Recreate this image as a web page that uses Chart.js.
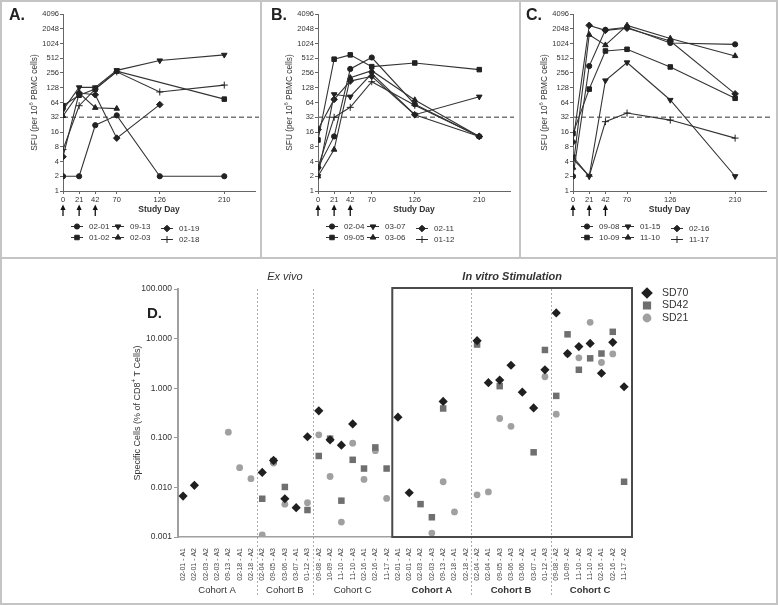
<!DOCTYPE html>
<html>
<head>
<meta charset="utf-8">
<script src="https://cdn.jsdelivr.net/npm/chart.js@4.4.1/dist/chart.umd.min.js"></script>
<style>
    body { margin: 0; background: #fff; }
    #fig { position: relative; width: 778px; height: 605px; overflow: hidden; background: #fff; }
    #fig canvas { position: absolute; }
    .rule { position: absolute; background: #c4c4c4; }
</style>
</head>
<body>
<div id="fig">
    <div class="rule" style="left:0;top:0;width:778px;height:2px"></div>
    <div class="rule" style="left:0;top:603px;width:778px;height:2px"></div>
    <div class="rule" style="left:0;top:0;width:2px;height:605px"></div>
    <div class="rule" style="left:776px;top:0;width:2px;height:605px"></div>
    <div class="rule" style="left:0;top:257px;width:778px;height:2px"></div>
    <div class="rule" style="left:260px;top:0;width:2px;height:257px"></div>
    <div class="rule" style="left:519px;top:0;width:2px;height:257px"></div>

    <canvas id="chartA" width="262" height="257" style="left:0;top:0"></canvas>
    <canvas id="chartB" width="262" height="257" style="left:255px;top:0"></canvas>
    <canvas id="chartC" width="268" height="257" style="left:510px;top:0"></canvas>
    <canvas id="chartD" width="778" height="346" style="left:0;top:259px"></canvas>
</div>

<script>
// ---- panels A-C: SFU over study days ----
const days = [0, 21, 42, 70, 126, 210];
const sfuTicks = [1, 2, 4, 8, 16, 32, 64, 128, 256, 512, 1024, 2048, 4096];
const vaccinationDays = [0, 21, 42];
const cutoff = 32;

const namesA = ["02-01", "01-02", "09-13", "02-03", "01-19", "02-18"];
const a0201 = [2, 2, 22, 35, 2, 2];
const a0102 = [55, 90, 120, 280, null, 75];
const a0913 = [45, 130, 130, 290, 460, 600];
const a0203 = [34, 100, 50, 48, null, null];
const a0119 = [5, 100, 92, 12, 58, null];
const a0218 = [7, 55, 120, 270, 105, 145];

const namesB = ["02-04", "09-05", "03-07", "03-06", "02-11", "01-12"];
const b0204 = [3, 13, 310, 530, 59, 13];
const b0905 = [11, 490, 600, 345, 410, 300];
const b0307 = [2, 94, 84, 250, 36, 84];
const b0306 = [2, 7, 205, 285, 72, 13];
const b0211 = [18, 74, 175, 220, 36, 13];
const b0112 = [3, 32, 51, 170, 56, 13];

const namesC = ["09-08", "10-09", "01-15", "11-10", "02-16", "11-17"];
const c0908 = [2, 355, 1950, 2200, 1050, 985];
const c1009 = [15, 120, 720, 780, 340, 78];
const c0115 = [5, 2, 180, 420, 72, 2];
const c1110 = [3, 1550, 950, 2400, 1300, 570];
const c0216 = [10, 2400, 1900, 2100, 1150, 96];
const c1117 = [4.5, 2, 26, 39, 28, 12];

// ---- panel D: specific cells per patient / time point ----
const sampleLabels = [
    "02-01 - A1", "02-01 - A2", "02-03 - A2", "02-03 - A3", "09-13 - A2", "02-18 - A1", "02-18 - A2",
    "02-04 - A2", "09-05 - A3", "03-06 - A3", "03-07 - A1", "01-12 - A3",
    "09-08 - A2", "10-09 - A2", "11-10 - A2", "11-10 - A3", "02-16 - A1", "02-16 - A2", "11-17 - A2",
    "02-01 - A1", "02-01 - A2", "02-03 - A2", "02-03 - A3", "09-13 - A2", "02-18 - A1", "02-18 - A2",
    "02-04 - A2", "02-04 - A1", "09-05 - A3", "03-06 - A3", "03-06 - A2", "03-07 - A1", "01-12 - A3",
    "09-08 - A2", "10-09 - A2", "11-10 - A2", "11-10 - A3", "02-16 - A1", "02-16 - A2", "11-17 - A2",
];
const pctTicks = [0.001, 0.01, 0.1, 1, 10, 100];
const sd70 = [
    0.0067, 0.011, null, null, null, null, null,
    0.020, 0.035, 0.0059, 0.0039, 0.105,
    0.35, 0.091, 0.071, 0.19, null, null, null,
    0.26, 0.0078, null, null, 0.54, null, null,
    9.1, 1.29, 1.46, 2.9, 0.83, 0.40, 2.35,
    33, 5.0, 6.9, 8.0, 2.0, 8.4, 1.07,
];
const sd42 = [
    null, null, null, null, null, null, null,
    0.0059, 0.034, 0.0102, null, 0.0035,
    0.043, 0.096, 0.0054, 0.036, 0.024, 0.064, 0.024,
    null, null, 0.0046, 0.0025, 0.39, null, null,
    7.6, null, 1.1, null, null, 0.051, 5.9,
    0.70, 12.2, 2.35, 4.0, 5.0, 13.7, 0.013,
];
const sd21 = [
    null, null, null, null, 0.13, 0.025, 0.015,
    0.0011, 0.031, 0.0046, null, 0.0049,
    0.115, 0.0166, 0.0020, 0.078, 0.0145, 0.055, 0.006,
    null, null, null, 0.0012, 0.013, 0.0032, null,
    0.0071, 0.0081, 0.245, 0.17, null, null, 1.7,
    0.30, 4.9, 4.1, 21.3, 3.3, 4.9, null,
];
const cohortNames = ["Cohort A", "Cohort B", "Cohort C"];

const FONT = "'Liberation Sans', Arial, sans-serif";
const markerStyles = ["circle", "rect", "triangle", "triangle", "rectRot", "cross"];
const markerRotation = [0, 0, 180, 0, 0, 0];
const markerRadius = [2.6, 3.2, 3.2, 3.2, 3.3, 3.5];

function font(size, weight = "normal", style = "normal") {
    return `${style} ${weight} ${size}px ${FONT}`;
}

function drawMarker(ctx, style, x, y, radius, rotation, color) {
    ctx.save();
    ctx.fillStyle = color;
    ctx.strokeStyle = color;
    Chart.helpers.drawPoint(ctx, { pointStyle: style, rotation, radius, borderWidth: 1 }, x, y);
    ctx.restore();
}

// vertical axis title with an optional superscript part
function drawVerticalTitle(ctx, parts, cx, cy, size) {
    ctx.save();
    ctx.translate(cx, cy);
    ctx.rotate(-Math.PI / 2);
    let total = 0;
    parts.forEach((p) => {
        ctx.font = font(p.sup ? size * 0.7 : size);
        p.w = ctx.measureText(p.t).width;
        total += p.w;
    });
    let x = -total / 2;
    ctx.fillStyle = "#333";
    ctx.textAlign = "left";
    ctx.textBaseline = "middle";
    parts.forEach((p) => {
        ctx.font = font(p.sup ? size * 0.7 : size);
        ctx.fillText(p.t, x, p.sup ? -size * 0.4 : 0);
        x += p.w;
    });
    ctx.restore();
}

const topDecor = {
    id: "topDecor",
    beforeDatasetsDraw(chart) {
        const { ctx, chartArea, scales } = chart;
        const yy = scales.y.getPixelForValue(cutoff);
        ctx.save();
        ctx.strokeStyle = "#777";
        ctx.lineWidth = 1.6;
        ctx.setLineDash([5, 3]);
        ctx.beginPath();
        ctx.moveTo(chartArea.left, yy);
        ctx.lineTo(chartArea.right + 4, yy);
        ctx.stroke();
        ctx.restore();
    },
    afterDraw(chart) {
        const { ctx, chartArea, scales } = chart;
        const opts = chart.options.plugins.topDecor;
        ctx.save();
        // vaccination arrows
        ctx.fillStyle = "#111";
        ctx.strokeStyle = "#111";
        ctx.lineWidth = 1.3;
        vaccinationDays.forEach((d) => {
            const x = scales.x.getPixelForValue(d);
            ctx.beginPath();
            ctx.moveTo(x, 209);
            ctx.lineTo(x, 216);
            ctx.stroke();
            ctx.beginPath();
            ctx.moveTo(x, 204.5);
            ctx.lineTo(x - 2.6, 210);
            ctx.lineTo(x + 2.6, 210);
            ctx.closePath();
            ctx.fill();
        });
        ctx.fillStyle = "#333";
        ctx.font = font(8.5, "bold");
        ctx.textAlign = "center";
        ctx.textBaseline = "middle";
        ctx.fillText("Study Day", (chartArea.left + chartArea.right) / 2, 210);

        ctx.font = font(16, "bold");
        ctx.fillStyle = "#222";
        ctx.textAlign = "left";
        ctx.fillText(opts.letter, opts.letterX, 16);

        // legend, 3 columns x 2 rows
        const cols = [77, 118, 167];
        const rows = [226.5, 237.5];
        ctx.font = font(8);
        chart.data.datasets.forEach((ds, i) => {
            const col = Math.floor(i / 2);
            const y = rows[i % 2] + (col === 2 ? 2 : 0);
            const cx = cols[col];
            ctx.strokeStyle = "#333";
            ctx.lineWidth = 1;
            ctx.beginPath();
            ctx.moveTo(cx - 6, y);
            ctx.lineTo(cx + 6, y);
            ctx.stroke();
            drawMarker(ctx, markerStyles[i], cx, y, markerRadius[i], markerRotation[i], "#222");
            ctx.fillStyle = "#333";
            ctx.textAlign = "left";
            ctx.fillText(ds.label, cx + 12, y);
        });
        ctx.restore();

        drawVerticalTitle(ctx, [
            { t: "SFU (per 10" }, { t: "6", sup: true }, { t: " PBMC cells)" },
        ], 35, (chartArea.top + chartArea.bottom) / 2, 8.3);
    },
};

function createTopChart(id, letter, letterX, names, series, rightPad) {
    new Chart(document.getElementById(id), {
        type: "line",
        data: {
            datasets: series.map((vals, i) => ({
                label: names[i],
                data: days.map((d, j) => ({ x: d, y: vals[j] })),
                borderColor: "#333",
                borderWidth: 1.1,
                pointStyle: markerStyles[i],
                rotation: markerRotation[i],
                pointRadius: markerRadius[i],
                pointBackgroundColor: "#222",
                pointBorderColor: "#222",
                pointBorderWidth: 1,
                spanGaps: true,
                tension: 0,
            })),
        },
        options: {
            responsive: false,
            animation: false,
            events: [],
            layout: { padding: { left: 0, top: 14, right: rightPad, bottom: 0 } },
            plugins: {
                legend: { display: false },
                tooltip: { enabled: false },
                topDecor: { letter, letterX },
            },
            scales: {
                x: {
                    type: "linear",
                    min: 0,
                    max: 250,
                    afterBuildTicks: (s) => { s.ticks = days.map((v) => ({ value: v })); },
                    afterFit: (s) => { s.height = 66; },
                    ticks: { font: { family: FONT, size: 7.5 }, color: "#333", padding: 1, maxRotation: 0, autoSkip: false },
                    grid: { drawOnChartArea: false, tickLength: 3, color: "#666" },
                    border: { color: "#666", width: 1 },
                },
                y: {
                    type: "logarithmic",
                    min: 1,
                    max: 4096,
                    afterBuildTicks: (s) => { s.ticks = sfuTicks.map((v) => ({ value: v })); },
                    afterFit: (s) => { s.width = 63; },
                    ticks: {
                        font: { family: FONT, size: 7.5 },
                        color: "#333",
                        padding: 1,
                        autoSkip: false,
                        callback: (v) => String(v),
                    },
                    grid: { drawOnChartArea: false, tickLength: 3, color: "#666" },
                    border: { color: "#666", width: 1 },
                },
            },
        },
        plugins: [topDecor],
    });
}

createTopChart("chartA", "A.", 9, namesA, [a0201, a0102, a0913, a0203, a0119, a0218], 7);
createTopChart("chartB", "B.", 16, namesB, [b0204, b0905, b0307, b0306, b0211, b0112], 7);
createTopChart("chartC", "C.", 16, namesC, [c0908, c1009, c0115, c1110, c0216, c1117], 12);

// ---- panel D ----
const dSeries = [
    { label: "SD70", data: sd70, style: "rectRot", radius: 4.6, color: "#1f1f1f" },
    { label: "SD42", data: sd42, style: "rect", radius: 4.6, color: "#6f6f6f" },
    { label: "SD21", data: sd21, style: "circle", radius: 3.4, color: "#a0a0a0" },
];

const panelDDecor = {
    id: "panelDDecor",
    beforeDatasetsDraw(chart) {
        const { ctx, chartArea, scales: { x } } = chart;
        ctx.save();
        ctx.strokeStyle = "#9a9a9a";
        ctx.lineWidth = 0.8;
        ctx.setLineDash([2, 2]);
        [6.5, 11.5, 25.5, 32.5].forEach((v) => {
            const px = Math.round(x.getPixelForValue(v)) + 0.5;
            ctx.beginPath();
            ctx.moveTo(px, chartArea.top);
            ctx.lineTo(px, 337);
            ctx.stroke();
        });
        ctx.restore();
    },
    afterDraw(chart) {
        const { ctx, chartArea, scales: { x, y } } = chart;
        ctx.save();
        // in vitro box
        const bx = x.getPixelForValue(18.5);
        ctx.strokeStyle = "#4a4a4a";
        ctx.lineWidth = 2;
        ctx.strokeRect(bx, chartArea.top - 1, chartArea.right - bx, chartArea.bottom - chartArea.top + 1);

        // headings
        ctx.fillStyle = "#333";
        ctx.textAlign = "center";
        ctx.textBaseline = "middle";
        ctx.font = font(11, "normal", "italic");
        ctx.fillText("Ex vivo", x.getPixelForValue(9), 18);
        ctx.font = font(11, "bold", "italic");
        ctx.fillText("In vitro Stimulation", (bx + chartArea.right) / 2, 18);

        // cohort labels
        [3, 9, 15].forEach((c, i) => {
            ctx.font = font(9.5);
            ctx.fillText(cohortNames[i], x.getPixelForValue(c), 331);
        });
        [22, 29, 36].forEach((c, i) => {
            ctx.font = font(9.5, "bold");
            ctx.fillText(cohortNames[i], x.getPixelForValue(c), 331);
        });

        ctx.font = font(15, "bold");
        ctx.fillStyle = "#222";
        ctx.textAlign = "left";
        ctx.fillText("D.", 147, 55);

        // legend
        ctx.font = font(10.5);
        dSeries.forEach((s, i) => {
            const ly = 34 + i * 12.5;
            drawMarker(ctx, s.style, 647, ly, i === 2 ? 3.4 : 4.4, 0, s.color);
            ctx.fillStyle = "#333";
            ctx.fillText(s.label, 662, ly);
        });
        ctx.restore();

        drawVerticalTitle(ctx, [
            { t: "Specific Cells (% of CD8" }, { t: "+", sup: true }, { t: " T Cells)" },
        ], 138, (chartArea.top + chartArea.bottom) / 2, 9);
    },
};

new Chart(document.getElementById("chartD"), {
    type: "scatter",
    data: {
        datasets: dSeries.map((s) => ({
            label: s.label,
            data: s.data.map((v, i) => (v == null ? null : { x: i, y: v })).filter(Boolean),
            pointStyle: s.style,
            pointRadius: s.radius,
            pointBackgroundColor: s.color,
            pointBorderColor: s.color,
            pointBorderWidth: 0,
        })),
    },
    options: {
        responsive: false,
        animation: false,
        events: [],
        layout: { padding: { left: 0, top: 30, right: 146, bottom: 0 } },
        plugins: { legend: { display: false }, tooltip: { enabled: false } },
        scales: {
            x: {
                type: "linear",
                min: -0.45,
                max: 39.7,
                afterBuildTicks: (s) => { s.ticks = sampleLabels.map((_, i) => ({ value: i })); },
                afterFit: (s) => { s.height = 68; },
                ticks: {
                    font: { family: FONT, size: 7 },
                    color: "#444",
                    padding: 3,
                    autoSkip: false,
                    minRotation: 90,
                    maxRotation: 90,
                    callback: (v) => sampleLabels[v],
                },
                grid: { display: false },
                border: { color: "#a0a0a0", width: 1.5 },
            },
            y: {
                type: "logarithmic",
                min: 0.001,
                max: 100,
                afterBuildTicks: (s) => { s.ticks = pctTicks.map((v) => ({ value: v })); },
                afterFit: (s) => { s.width = 178; },
                ticks: {
                    font: { family: FONT, size: 8.5 },
                    color: "#333",
                    padding: 2,
                    autoSkip: false,
                    callback: (v) => v.toFixed(3),
                },
                grid: { drawOnChartArea: false, tickLength: 4, color: "#999" },
                border: { color: "#a0a0a0", width: 2 },
            },
        },
    },
    plugins: [panelDDecor],
});
</script>
</body>
</html>
